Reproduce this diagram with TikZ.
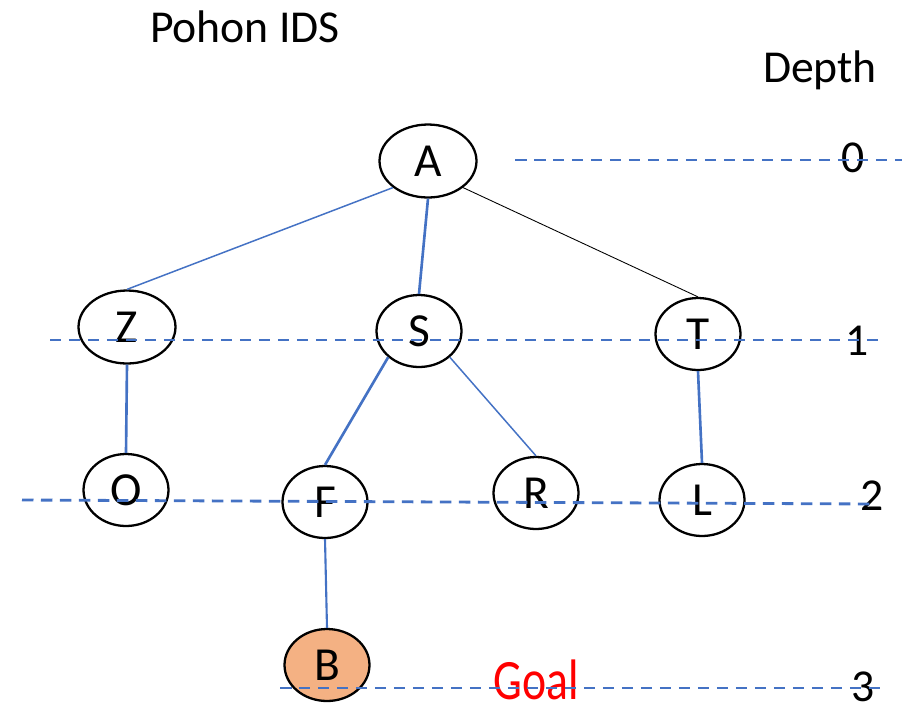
\documentclass[tikz,border=0pt]{standalone}
\usepackage{fontspec}
\setmainfont{Carlito}
\usetikzlibrary{shapes.geometric}
\definecolor{edgecol}{HTML}{4472C4}
\definecolor{goalcol}{HTML}{F4B183}
\definecolor{textred}{HTML}{FF0000}
\tikzset{
  vnode/.style={ellipse, draw, line width=1.3pt, minimum width=1.7cm, minimum height=1.44cm, inner sep=0pt, font=\fontsize{27}{32}\selectfont},
  wnode/.style={vnode, minimum width=1.94cm, minimum height=1.46cm},
  gnode/.style={vnode, fill=goalcol},
  lnode/.style={anchor=base, inner sep=0pt, font=\fontsize{26}{31}\selectfont},
  tedge/.style={draw=edgecol, line width=1.5pt},
  fedge/.style={draw=edgecol, line width=0.85pt},
  dline/.style={draw=edgecol, line width=1.6pt, dash pattern=on 0.23cm off 0.15cm},
}

\begin{document}
\begin{tikzpicture}[x=0.02cm, y=-0.02cm]
  \useasboundingbox (0,0) rectangle (902,707);
  % titles
  \node[lnode] (title) at (245,42) {Pohon IDS};
  \node[lnode] (depth) at (820,82) {Depth};
  % tree
  \node[wnode] (A) at (428,161) {A};
  \node[wnode] (Z) at (127,327) {Z};
  \node[vnode] (S) at (419,331) {S};
  \node[vnode] (T) at (698,334) {T};
  \node[vnode] (O) at (126,490) {O};
  \node[vnode] (F) at (325,502) {F};
  \node[vnode] (R) at (536,493) {R};
  \node[vnode] (L) at (702,500) {L};
  \node[gnode] (B) at (327,665) {B};
  \draw[fedge] (A.south west) -- (Z.north);
  \draw[tedge] (A.south) -- (S.north);
  \draw[line width=0.5pt] (A.south east) -- (T.north);
  \draw[tedge] (Z.south) -- (O.north);
  \draw[tedge] (S.south west) -- (F.north);
  \draw[fedge] (S.south east) -- (R.north);
  \draw[tedge] (T.south) -- (L.north);
  \draw[fedge, line width=1.2pt] (F.south) -- (B.north);
  % depth labels
  \node[lnode] (d0) at (853,172) {0};
  \node[lnode] (d1) at (857,355) {1};
  \node[lnode] (d2) at (872,510) {2};
  \node[lnode] (d3) at (863,701) {3};
  \node[lnode, text=textred, yscale=1.25, transform shape] (goal) at (536,699) {Goal};
  % depth lines
  \coordinate (l0a) at (515,160);  \coordinate (l0b) at (902,160);
  \coordinate (l1a) at (50,340);   \coordinate (l1b) at (880,340);
  \coordinate (l2a) at (22,500);   \coordinate (l2b) at (874,504);
  \coordinate (l3a) at (280,688);  \coordinate (l3b) at (887,688);
  \draw[dline] (l0a) -- (l0b);
  \draw[dline] (l1a) -- (l1b);
  \draw[dline] (l2a) -- (l2b);
  \draw[dline] (l3a) -- (l3b);
\end{tikzpicture}
\end{document}
